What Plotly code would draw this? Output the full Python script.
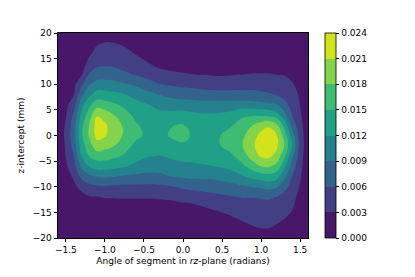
import numpy as np
import plotly.graph_objects as go

# grid coordinates
x_vals = [-1.6, -1.5, -1.4, -1.3, -1.2, -1.1, -1.0, -0.9, -0.75, -0.6, -0.45, -0.3, -0.15,
          0.0, 0.15, 0.3, 0.45, 0.6, 0.75, 0.9, 1.0, 1.1, 1.2, 1.3, 1.4, 1.5, 1.6]
# y from top (20) to bottom (-20)
y_vals = [20, 18, 16, 14, 12, 10, 8, 6, 4, 2, 0, -2, -4, -6, -8, -10, -12, -14, -16, -18, -20]

# density, one list per x column, values for y = 20 ... -20
density_by_column = [
    [.0001, .0001, .0002, .0002, .0003, .0004, .0005, .0007, .0009, .0011, .0012, .0011, .0009, .0007, .0005, .0004, .0003, .0002, .0001, .0001, .0001],
    [.0001, .0002, .0003, .0005, .0008, .0011, .0016, .0022, .0028, .0033, .0035, .0033, .0031, .0024, .0017, .0011, .0007, .0004, .0002, .0001, .0001],
    [.0001, .0003, .0006, .0010, .0016, .0022, .0028, .0045, .0064, .0075, .0077, .0071, .0058, .0048, .0035, .0022, .0014, .0008, .0004, .0002, .0001],
    [.0002, .0005, .0009, .0015, .0026, .0052, .00825, .0108, .0127, .0142, .0144, .0135, .0119, .0096, .00675, .0040, .0018, .0009, .0005, .0002, .0001],
    [.0003, .0012, .0025, .0041, .0061, .0087, .0113, .0143, .0165, .0182, .0184, .0168, .0151, .0121, .0083, .0052, .0028, .0013, .0006, .0003, .0001],
    [.0006, .0027, .0040, .0053, .0073, .0101, .0133, .0167, .0208, .0223, .0220, .0198, .0164, .0133, .0092, .0056, .0029, .0012, .0005, .0002, .0001],
    [.0012, .0032, .00435, .0055, .0075, .0102, .0132, .0163, .0197, .0215, .0213, .0190, .01635, .01335, .0095, .00575, .0032, .0014, .0006, .0003, .0001],
    [.0012, .0031, .00427, .00542, .0073, .0101, .0128, .0156, .0182, .0197, .0198, .0183, .0157, .0130, .0092, .0055, .0032, .0014, .0006, .0003, .0001],
    [.0010, .0026, .0038, .0050, .0064, .0093, .0121, .0144, .0160, .0175, .0176, .0161, .0147, .0123, .0086, .0054, .0033, .0015, .0006, .0003, .0001],
    [.0006, .0016, .0028, .0042, .0057, .0084, .0110, .0129, .0143, .0153, .0156, .0143, .0130, .0113, .0083, .0054, .0033, .0015, .0006, .0003, .0001],
    [.0003, .0009, .0019, .0032, .0049, .0072, .0099, .0121, .0130, .0141, .0145, .0137, .0122, .0104, .0082, .0053, .0033, .0015, .0006, .0003, .0001],
    [.0002, .0006, .0012, .0022, .0040, .0061, .0089, .0113, .0127, .0139, .0143, .0135, .0119, .0103, .0083, .0054, .0034, .0017, .0007, .0003, .0001],
    [.0001, .0004, .0009, .0018, .0035, .0056, .0081, .0107, .0129, .0149, .0153, .0141, .0125, .0108, .0091, .0058, .0036, .0018, .0008, .0003, .0001],
    [.0001, .0003, .0007, .0015, .0032, .0053, .0077, .0105, .0133, .0152, .0156, .0147, .0130, .01125, .0094, .0065, .0041, .0020, .0009, .0004, .0001],
    [.0001, .0003, .0007, .0014, .0029, .0050, .0074, .01035, .0125, .0138, .0146, .0141, .0130, .0115, .0096, .0069, .0045, .0024, .0011, .0005, .0002],
    [.0001, .0003, .0006, .0013, .0028, .0047, .0071, .0102, .0123, .0134, .0142, .0140, .0132, .0118, .0097, .0072, .0050, .0031, .0015, .0006, .0002],
    [.0001, .0002, .0006, .0012, .0026, .00455, .0070, .0102, .0124, .0138, .0147, .0147, .0137, .0121, .0099, .00757, .00535, .0037, .0019, .0008, .0003],
    [.0001, .0002, .0006, .0013, .0027, .0046, .0070, .0102, .0129, .0146, .0161, .0160, .0143, .0128, .0105, .0080, .0057, .0042, .0027, .0011, .0004],
    [.0001, .0002, .0006, .0014, .0029, .0047, .0071, .0103, .0145, .0160, .0172, .0177, .0163, .0142, .0117, .0085, .0061, .0048, .0035, .0019, .0007],
    [.0001, .0003, .0007, .0015, .0031, .0048, .0069, .0101, .0147, .0181, .0198, .0206, .0195, .0166, .0129, .0091, .0061, .0050, .0039, .0028, .0010],
    [.0001, .0003, .0007, .0015, .0031, .00467, .0066, .0099, .0145, .0195, .0220, .0229, .0214, .0181, .0135, .0094, .0062, .00505, .00405, .0031, .0012],
    [.0001, .0003, .0007, .0016, .0031, .0046, .0063, .0097, .0143, .0206, .0225, .0234, .0217, .0184, .0139, .0100, .00635, .00507, .00403, .0031, .0011],
    [.0001, .0003, .0007, .0015, .0029, .0044, .00585, .0091, .0134, .0184, .0212, .0215, .0200, .0170, .0131, .0094, .0059, .0048, .0037, .0026, .0009],
    [.0001, .0003, .0006, .0014, .0028, .0039, .0051, .00675, .0100, .0140, .0164, .0177, .0155, .01275, .00975, .00675, .0052, .0042, .0032, .0017, .0006],
    [.0001, .0002, .0005, .0011, .0022, .0032, .0041, .0051, .0058, .0078, .0103, .0118, .0095, .0075, .0058, .0050, .0041, .0033, .0022, .0011, .0004],
    [.0001, .0001, .0003, .0006, .0012, .0020, .0026, .0029, .0034, .0039, .0044, .0045, .0042, .0038, .0033, .0027, .0019, .0012, .0006, .0003, .0001],
    [.0001, .0001, .0001, .0002, .0003, .0005, .0007, .0008, .0009, .0011, .0012, .0012, .0011, .0010, .0008, .0006, .0004, .0002, .0001, .0001, .0001],
]

levels = [0.000, 0.003, 0.006, 0.009, 0.012, 0.015, 0.018, 0.021, 0.024]
level_labels = ["0.000", "0.003", "0.006", "0.009", "0.012", "0.015", "0.018", "0.021", "0.024"]
band_colors = ["#481769", "#423f85", "#33628d", "#26818e", "#20a086", "#3fbc73", "#84d44b", "#d2e21b"]

x_ticks = [-1.5, -1.0, -0.5, 0.0, 0.5, 1.0, 1.5]
y_ticks = [-20, -15, -10, -5, 0, 5, 10, 15, 20]

# build grid (ascending y), plotted in units of 1e-3
z = np.array(density_by_column).T[::-1] * 1000.0
y_asc = y_vals[::-1]

nb = len(band_colors)
colorscale = []
for i, c in enumerate(band_colors):
    colorscale.append([i / nb, c])
    colorscale.append([(i + 1) / nb, c])

lv = [v * 1000 for v in levels]

fig = go.Figure(go.Contour(
    x=x_vals, y=y_asc, z=z,
    colorscale=colorscale, zmin=lv[0], zmax=lv[-1], zauto=False,
    autocontour=False,
    contours=dict(start=lv[0], end=lv[-1], size=lv[1] - lv[0], coloring="fill", showlines=False),
    line=dict(width=0, smoothing=1.3),
    colorbar=dict(
        x=(325 - 52) / 256, xanchor="left", xpad=0, ypad=0,
        y=0.5, yanchor="middle", len=1.0, lenmode="fraction",
        thickness=11, thicknessmode="pixels",
        outlinewidth=0.8, outlinecolor="black",
        tickvals=lv, ticktext=level_labels,
        ticks="outside", ticklen=3.5, tickwidth=0.8, tickcolor="black",
        tickfont=dict(family="DejaVu Sans", size=9, color="black"),
    ),
    hoverinfo="skip",
))

axis_common = dict(
    showline=True, mirror=True, linecolor="black", linewidth=0.8,
    ticks="outside", ticklen=3.5, tickwidth=0.8, tickcolor="black",
    showgrid=False, zeroline=False,
    tickfont=dict(family="DejaVu Sans", size=9, color="black"),
)

# the page body adds an 8 px offset, so the figure is sized to compensate
fig.update_layout(
    width=407, height=269,
    margin=dict(l=44, r=107, t=25, b=35),
    paper_bgcolor="white", plot_bgcolor="white",
    font=dict(family="DejaVu Sans", size=9, color="black"),
    xaxis=dict(range=[-1.6, 1.6], tickvals=x_ticks, tickformat=".1f",
               title=dict(text="Angle of segment in <i>rz</i>-plane (radians)",
                          font=dict(family="DejaVu Sans", size=9), standoff=3),
               **axis_common),
    yaxis=dict(range=[-20, 20], tickvals=y_ticks,
               title=dict(text="z-intercept (mm)",
                          font=dict(family="DejaVu Sans", size=9), standoff=6),
               **axis_common),
)

fig.write_html("out.html")
